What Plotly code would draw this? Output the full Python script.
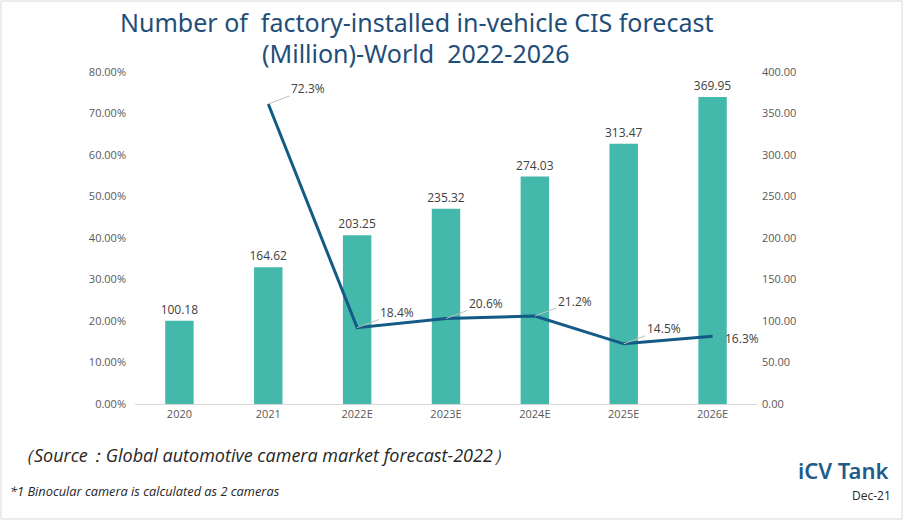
import plotly.graph_objects as go

categories = ["2020", "2021", "2022E", "2023E", "2024E", "2025E", "2026E"]
volumes = [100.18, 164.62, 203.25, 235.32, 274.03, 313.47, 369.95]
growth = [None, 0.723, 0.184, 0.206, 0.212, 0.145, 0.163]
growth_labels = [None, "72.3%", "18.4%", "20.6%", "21.2%", "14.5%", "16.3%"]
left_ticks = [0, 0.1, 0.2, 0.3, 0.4, 0.5, 0.6, 0.7, 0.8]
right_ticks = [0, 50, 100, 150, 200, 250, 300, 350, 400]

BAR = "#45B8AC"
LINE = "#135A86"
TICK = "#595959"
FONT = "Open Sans"

L, R, T, B = 135, 147, 72, 117
W, H = 904, 521
PW, PH = W - L - R, H - T - B


def px(xp):
    return (xp - L) / PW


def py(yp):
    return (H - B - yp) / PH


fig = go.Figure()
fig.add_trace(go.Bar(
    x=categories, y=volumes, yaxis="y",
    marker=dict(color=BAR, line=dict(width=0)),
    width=0.32,
    text=[f"{v:.2f}" for v in volumes], textposition="outside",
    constraintext="none",
    textfont=dict(size=12, color="#404040", family=FONT),
    cliponaxis=False, showlegend=False,
))
fig.add_trace(go.Scatter(
    x=categories, y=growth, yaxis="y2", mode="lines",
    line=dict(color=LINE, width=3), showlegend=False, connectgaps=False,
))

annotations = []
for i, (g, lab) in enumerate(zip(growth, growth_labels)):
    if g is None:
        continue
    if i == len(categories) - 1:
        annotations.append(dict(x=i, y=g, xref="x", yref="y2", text=lab,
                                showarrow=False, xanchor="left", xshift=10, yshift=-2,
                                font=dict(size=12, color="#404040", family=FONT)))
    else:
        annotations.append(dict(x=i, y=g, xref="x", yref="y2", text=lab,
                                showarrow=True, ax=40, ay=-15, arrowhead=0,
                                arrowwidth=1, arrowcolor="#BFBFBF", standoff=0,
                                font=dict(size=12, color="#404040", family=FONT)))

annotations += [
    dict(x=px(416), y=py(22), xref="paper", yref="paper", showarrow=False,
         text="Number of  factory-installed in-vehicle CIS forecast",
         font=dict(size=25, color="#1F4E79", family="Noto Sans"),
         xanchor="center", yanchor="middle"),
    dict(x=px(416), y=py(53), xref="paper", yref="paper", showarrow=False,
         text="(Million)-World  2022-2026",
         font=dict(size=25, color="#1F4E79", family="Noto Sans"),
         xanchor="center", yanchor="middle"),
    dict(x=px(14), y=py(455), xref="paper", yref="paper", showarrow=False,
         xanchor="left", yanchor="middle",
         text="<i>（Source：Global automotive camera market forecast-2022）</i>",
         font=dict(size=18, color="#262626", family=FONT)),
    dict(x=px(8), y=py(491), xref="paper", yref="paper", showarrow=False,
         xanchor="left", yanchor="middle",
         text="<i>*1 Binocular camera is calculated as 2 cameras</i>",
         font=dict(size=12.8, color="#262626", family=FONT)),
    dict(x=px(891), y=py(470), xref="paper", yref="paper", showarrow=False,
         xanchor="right", yanchor="middle", text="iCV Tank",
         font=dict(size=22, color="#1F5C8B", family="Noto Sans", weight=600)),
    dict(x=px(893), y=py(496), xref="paper", yref="paper", showarrow=False,
         xanchor="right", yanchor="middle", text="Dec-21",
         font=dict(size=12, color="#262626", family=FONT)),
]

fig.update_layout(
    width=W, height=H,
    margin=dict(l=L, r=R, t=T, b=B),
    paper_bgcolor="white", plot_bgcolor="white",
    font=dict(family=FONT, color=TICK, size=11),
    bargap=0.6,
    xaxis=dict(type="category", categoryorder="array", categoryarray=categories,
               range=[-0.5, len(categories) - 0.5], showgrid=False, showline=True,
               linecolor="#D9D9D9", ticks="", tickfont=dict(size=11, color=TICK)),
    yaxis=dict(range=[0, 400], tickvals=right_ticks, tickformat=".2f",
               side="right", showgrid=False, zeroline=False, showline=False,
               tickfont=dict(size=11, color=TICK), ticklabelstandoff=4),
    yaxis2=dict(range=[0, 0.8], tickvals=left_ticks, tickformat=".2%", showgrid=False,
                overlaying="y", side="left",
                zeroline=False, showline=False, tickfont=dict(size=11, color=TICK),
                ticks="", ticklabelstandoff=8),
    annotations=annotations,
    shapes=[dict(type="rect", xref="paper", yref="paper", x0=px(1), x1=px(W - 2),
                 y0=py(H - 2), y1=py(1), line=dict(color="#D9D9D9", width=1),
                 layer="below")],
)

fig.write_html("out.html", config={"displayModeBar": False},
               post_script="document.body.style.margin='0';document.body.style.overflow='hidden';")
